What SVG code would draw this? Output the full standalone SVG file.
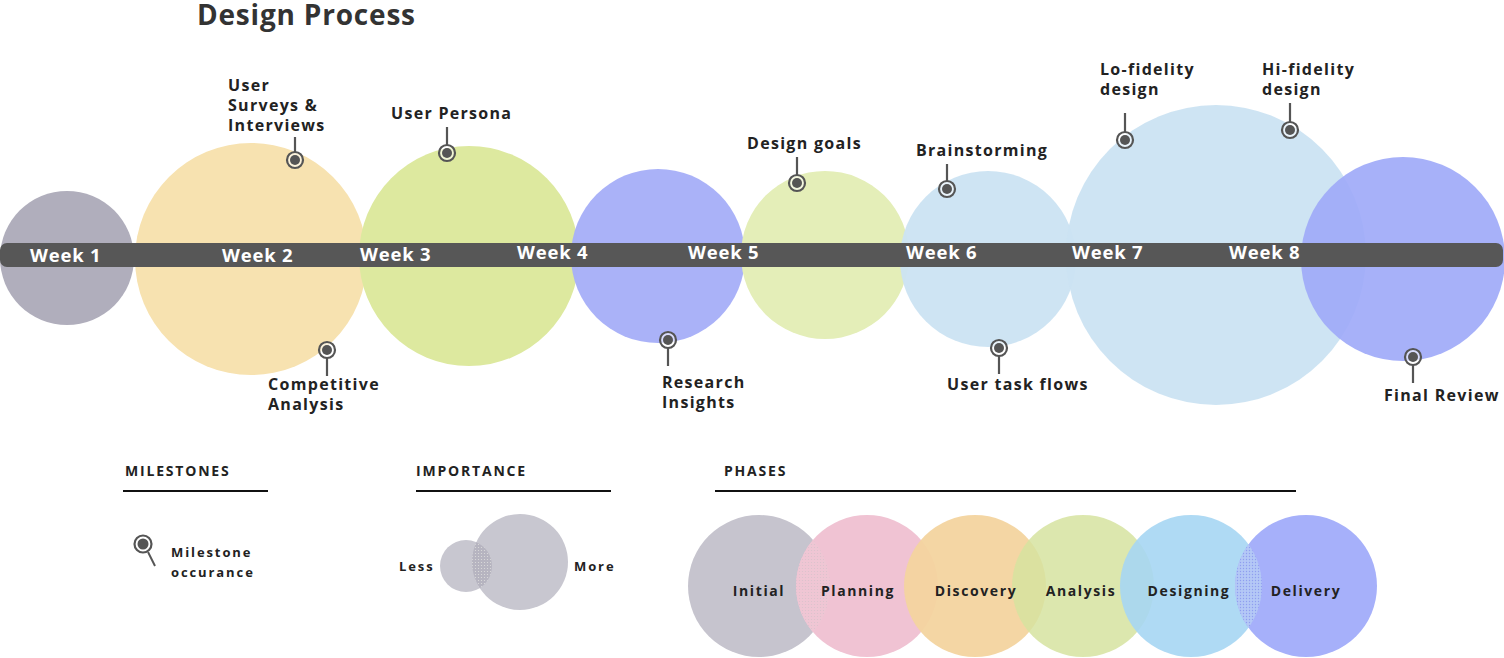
<svg xmlns="http://www.w3.org/2000/svg" width="1504" height="658" viewBox="0 0 1504 658">
<style>
.lbl{font-family:"Open Sans","Liberation Sans",sans-serif;font-weight:700;font-size:16px;letter-spacing:1.3px;fill:#222}
.wk{font-family:"Open Sans","Liberation Sans",sans-serif;font-weight:700;font-size:18.5px;letter-spacing:0.8px;fill:#fff}
.hd{font-family:"Open Sans","Liberation Sans",sans-serif;font-weight:700;font-size:14px;letter-spacing:1.8px;fill:#222}
.sm{font-family:"Open Sans","Liberation Sans",sans-serif;font-weight:700;font-size:13px;letter-spacing:1.9px;fill:#222}
.ph{font-family:"Open Sans","Liberation Sans",sans-serif;font-weight:700;font-size:14px;letter-spacing:1.6px;fill:#222;text-anchor:middle}
.stem{stroke:#555;stroke-width:2.2}
.ring{fill:#fff;fill-opacity:0.55;stroke:#555;stroke-width:2.2}
.dot{fill:#555}
.rule{stroke:#111;stroke-width:2}
</style>
<defs>
<g id="pin"><circle class="ring" r="8"/><circle class="dot" r="5"/></g>
<pattern id="dots" width="3" height="3" patternUnits="userSpaceOnUse"><rect width="3" height="3" fill="#b6b4c0"/><circle cx="1.5" cy="1.5" r="0.6" fill="#ddd"/></pattern>
<pattern id="dotsPink" width="3" height="3" patternUnits="userSpaceOnUse"><rect width="3" height="3" fill="#efc6d4"/><circle cx="1.5" cy="1.5" r="0.6" fill="#d9c2cc"/></pattern>
<pattern id="dotsBlue" width="3" height="3" patternUnits="userSpaceOnUse"><rect width="3" height="3" fill="#b4c8f6"/><circle cx="1.5" cy="1.5" r="0.7" fill="#8f9ef0"/></pattern>
<clipPath id="clipSmall"><circle cx="466" cy="566" r="26"/></clipPath>
<clipPath id="clipInitial"><circle cx="759" cy="586" r="71"/></clipPath>
<clipPath id="clipDesigning"><circle cx="1191" cy="586" r="71"/></clipPath>
</defs>
<text x="197" y="25" font-family="'Open Sans','Liberation Sans',sans-serif" font-weight="700" font-size="28" letter-spacing="0.8" fill="#333">Design Process</text>

<g id="circles">
<circle id="c1" cx="67" cy="258" r="67" fill="#b0aebc"/>
<circle id="c2" cx="251" cy="259" r="116" fill="#f7e2b0"/>
<circle id="c3" cx="469" cy="256" r="110" fill="#dde99f"/>
<circle id="c4" cx="658" cy="256" r="87" fill="#a7b0f8" fill-opacity="0.97"/>
<circle id="c5" cx="825" cy="255" r="84" fill="#e4eeb8"/>
<circle id="c6" cx="988" cy="259" r="88" fill="#cbe3f2" fill-opacity="0.95"/>
<circle id="c7" cx="1216" cy="255" r="150" fill="#cbe3f2" fill-opacity="0.95"/>
<circle id="c8" cx="1403" cy="259" r="102" fill="#a0aaf8" fill-opacity="0.92"/>
</g>

<g id="timeline">
<rect x="0" y="243" width="1503" height="24" rx="7" fill="#575757"/>
<text class="wk" x="30" y="262">Week 1</text>
<text class="wk" x="222" y="262">Week 2</text>
<text class="wk" x="360" y="261">Week 3</text>
<text class="wk" x="517" y="259">Week 4</text>
<text class="wk" x="688" y="259">Week 5</text>
<text class="wk" x="906" y="259">Week 6</text>
<text class="wk" x="1072" y="259">Week 7</text>
<text class="wk" x="1229" y="259">Week 8</text>
</g>

<g id="connectors">
<line class="stem" x1="295" y1="137" x2="295" y2="152"/>
<line class="stem" x1="447" y1="127" x2="447" y2="145"/>
<line class="stem" x1="327" y1="358" x2="327" y2="376"/>
<line class="stem" x1="668" y1="348" x2="668" y2="366"/>
<line class="stem" x1="797" y1="157" x2="797" y2="175"/>
<line class="stem" x1="947" y1="164" x2="947" y2="181"/>
<line class="stem" x1="999" y1="356" x2="999" y2="374"/>
<line class="stem" x1="1125" y1="113" x2="1125" y2="132"/>
<line class="stem" x1="1290" y1="103" x2="1290" y2="122"/>
<line class="stem" x1="1413" y1="365" x2="1413" y2="383"/>
</g>

<g id="m-surveys"><use href="#pin" x="295" y="160"/><text class="lbl" x="228" y="91">User</text><text class="lbl" x="228" y="111">Surveys &amp;</text><text class="lbl" x="228" y="131">Interviews</text></g>
<g id="m-persona"><use href="#pin" x="447" y="153"/><text class="lbl" x="391" y="119">User Persona</text></g>
<g id="m-competitive"><use href="#pin" x="327" y="350"/><text class="lbl" x="268" y="390">Competitive</text><text class="lbl" x="268" y="410">Analysis</text></g>
<g id="m-research"><use href="#pin" x="668" y="340"/><text class="lbl" x="662" y="388">Research</text><text class="lbl" x="662" y="408">Insights</text></g>
<g id="m-goals"><use href="#pin" x="797" y="183"/><text class="lbl" x="747" y="149">Design goals</text></g>
<g id="m-brain"><use href="#pin" x="947" y="189"/><text class="lbl" x="916" y="156">Brainstorming</text></g>
<g id="m-flows"><use href="#pin" x="999" y="348"/><text class="lbl" x="947" y="390">User task flows</text></g>
<g id="m-lofi"><use href="#pin" x="1125" y="140"/><text class="lbl" x="1100" y="75">Lo-fidelity</text><text class="lbl" x="1100" y="95">design</text></g>
<g id="m-hifi"><use href="#pin" x="1290" y="130"/><text class="lbl" x="1262" y="75">Hi-fidelity</text><text class="lbl" x="1262" y="95">design</text></g>
<g id="m-final"><use href="#pin" x="1413" y="357"/><text class="lbl" x="1384" y="401">Final Review</text></g>

<g id="legend-milestones">
<text class="hd" x="125" y="476">MILESTONES</text>
<line class="rule" x1="123" y1="491" x2="268" y2="491"/>
<line x1="148" y1="552" x2="155" y2="566" stroke="#555" stroke-width="2"/>
<circle cx="143" cy="544" r="8.5" fill="#fff" stroke="#555" stroke-width="2.2"/>
<circle cx="143" cy="544" r="5.5" fill="#555"/>
<text class="sm" x="171" y="557">Milestone</text>
<text class="sm" x="171" y="577">occurance</text>
</g>

<g id="legend-importance">
<text class="hd" x="416" y="476">IMPORTANCE</text>
<line class="rule" x1="416" y1="491" x2="611" y2="491"/>
<circle cx="466" cy="566" r="26" fill="#c8c7d0"/>
<circle cx="520" cy="562" r="48" fill="#c8c7d0"/>
<circle cx="520" cy="562" r="48" fill="url(#dots)" clip-path="url(#clipSmall)"/>
<text class="sm" x="399" y="571">Less</text>
<text class="sm" x="574" y="571">More</text>
</g>

<g id="legend-phases">
<text class="hd" x="724" y="476">PHASES</text>
<line class="rule" x1="715" y1="491" x2="1296" y2="491"/>
<g id="ph-initial"><circle cx="759" cy="586" r="71" fill="#c6c4ce"/></g>
<g id="ph-planning"><circle cx="867" cy="586" r="71" fill="#f0c3d3"/><circle cx="867" cy="586" r="71" fill="url(#dotsPink)" clip-path="url(#clipInitial)"/></g>
<g id="ph-discovery"><circle cx="975" cy="586" r="71" fill="#f3d49f" fill-opacity="0.95"/></g>
<g id="ph-analysis"><circle cx="1083" cy="586" r="71" fill="#d6e3a0" fill-opacity="0.85"/></g>
<g id="ph-designing"><circle cx="1191" cy="586" r="71" fill="#a6d6f3" fill-opacity="0.9"/></g>
<g id="ph-delivery"><circle cx="1306" cy="586" r="71" fill="#a6b0fa"/><circle cx="1306" cy="586" r="71" fill="url(#dotsBlue)" clip-path="url(#clipDesigning)"/></g>
<text class="ph" x="759" y="596">Initial</text>
<text class="ph" x="858" y="596">Planning</text>
<text class="ph" x="976" y="596">Discovery</text>
<text class="ph" x="1081" y="596">Analysis</text>
<text class="ph" x="1189" y="596">Designing</text>
<text class="ph" x="1306" y="596">Delivery</text>
</g>
</svg>
